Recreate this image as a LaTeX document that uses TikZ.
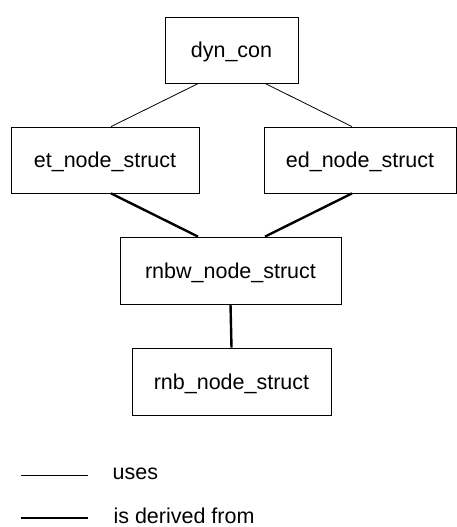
\documentclass[tikz,border=0pt]{standalone}
\usepackage{fontspec}
\setmainfont{Liberation Sans}
\usepackage{tikz}
\usetikzlibrary{positioning, calc}

\begin{document}
\begin{tikzpicture}[
    x=1pt, y=-1pt,
    font=\fontsize{21.5}{25}\selectfont,
    cls/.style={draw, line width=0.8pt, minimum height=66pt, inner sep=0pt, text depth=0pt},
    uses/.style={line width=0.8pt},
    derived/.style={line width=2.4pt},
  ]
    \useasboundingbox (0,0) rectangle (457,527);
    \node[cls, minimum width=133pt] (dyn)  at (231.5,50)  {dyn\_con};
    \node[cls, minimum width=188pt] (et)   at (105,160)   {et\_node\_struct};
    \node[cls, minimum width=192pt] (ed)   at (360,160)   {ed\_node\_struct};
    \node[cls, minimum width=221pt, minimum height=67pt] (rnbw) at (230.5,270.5) {rnbw\_node\_struct};
    \node[cls, minimum width=199pt, minimum height=67pt] (rnb)  at (231.5,381.5) {rnb\_node\_struct};

    \draw[uses] ([xshift=-33pt]dyn.south) -- ([xshift=6pt]et.north);
    \draw[uses] ([xshift=33.5pt]dyn.south) -- ([xshift=-8pt]ed.north);
    \draw[derived] ([xshift=6pt]et.south) -- ([xshift=-32.5pt]rnbw.north);
    \draw[derived] ([xshift=-8pt]ed.south) -- ([xshift=34.5pt]rnbw.north);
    \draw[derived] (rnbw.south) -- (rnb.north);

    % key
    \coordinate (k1) at (21,475);
    \coordinate (k2) at (21,518);
    \draw[uses] (k1) -- ++(67,0) node[anchor=west, xshift=21pt, yshift=1pt] (kuses) {uses};
    \draw[derived] (k2) -- ++(67,0) node[anchor=west, xshift=21pt, yshift=2pt] (kder) {is derived from};
  \end{tikzpicture}
\end{document}
